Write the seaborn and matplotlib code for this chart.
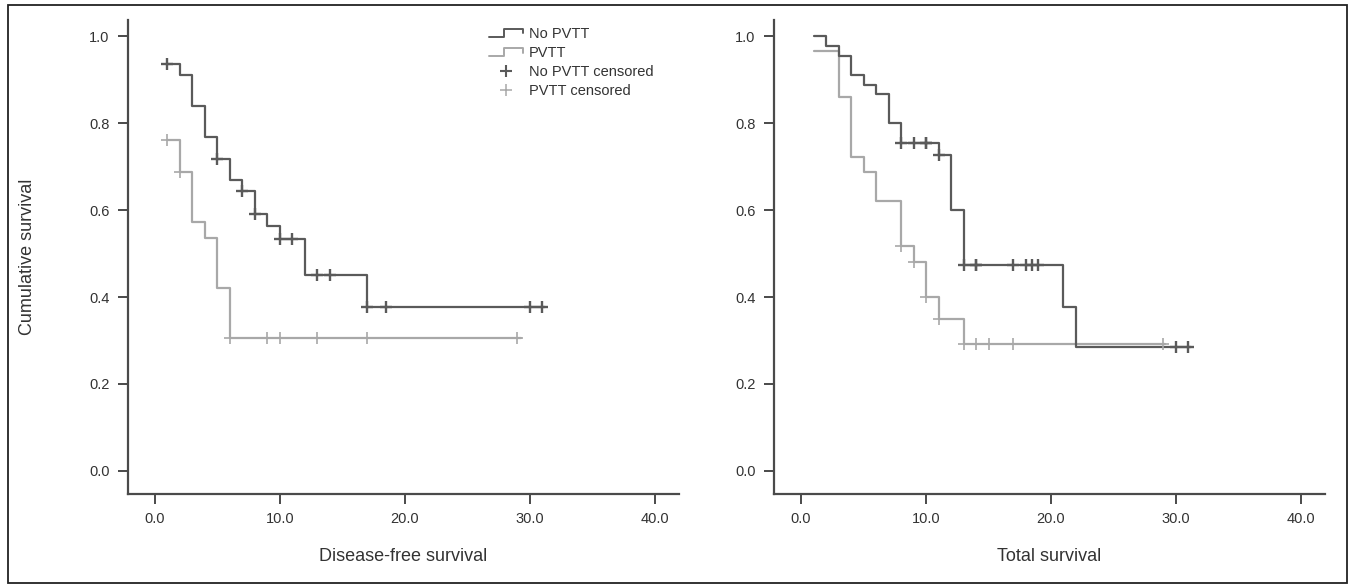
import numpy as np
import pandas as pd
import matplotlib
matplotlib.use("Agg")
import matplotlib.pyplot as plt
import seaborn as sns
from matplotlib.lines import Line2D
from matplotlib.patches import Rectangle
from matplotlib.legend_handler import HandlerBase

# Disease-free survival, step curves (time, cumulative survival)
dfs_no_t = [1, 2, 3, 4, 5, 6, 7, 8, 9, 10, 12, 17, 31.2]
dfs_no_s = [0.935, 0.91, 0.84, 0.767, 0.718, 0.668, 0.643, 0.592, 0.563, 0.533, 0.45, 0.376, 0.376]
dfs_no_cens = [1, 5, 7, 8, 10, 11, 13, 14, 17, 18.5, 30, 31]
dfs_pv_t = [1, 2, 3, 4, 5, 6, 29.3]
dfs_pv_s = [0.76, 0.687, 0.573, 0.535, 0.42, 0.305, 0.305]
dfs_pv_cens = [1, 2, 6, 9, 10, 13, 17, 29]

# Total survival
os_no_t = [1, 2, 3, 4, 5, 6, 7, 8, 11, 12, 13, 21, 22, 31.2]
os_no_s = [1.0, 0.977, 0.955, 0.91, 0.888, 0.866, 0.799, 0.755, 0.727, 0.6, 0.474, 0.378, 0.285, 0.285]
os_no_cens = [8, 9, 10, 10, 11, 13, 14, 14, 17, 18, 18.5, 19, 30, 31]
os_pv_t = [1, 3, 4, 5, 6, 8, 9, 10, 11, 13, 29.1]
os_pv_s = [0.965, 0.86, 0.723, 0.688, 0.62, 0.517, 0.48, 0.40, 0.35, 0.292, 0.292]
os_pv_cens = [8, 9, 10, 11, 13, 14, 15, 17, 29]

groups = ["No PVTT", "PVTT"]
legend_labels = ["No PVTT", "PVTT", "No PVTT censored", "PVTT censored"]
x_label = ["Disease-free survival", "Total survival"]
y_label = "Cumulative survival"
ticks_x = [0, 10, 20, 30, 40]
ticks_y = [0.0, 0.2, 0.4, 0.6, 0.8, 1.0]

DARK = "#5a5a5a"
LIGHT = "#a8a8a8"
TXT = "#333333"
palette = {"No PVTT": DARK, "PVTT": LIGHT}


def step_at(times, surv, t):
    idx = np.searchsorted(times, t, side="right") - 1
    return surv[max(idx, 0)]


def make_frames(no_t, no_s, no_c, pv_t, pv_s, pv_c):
    curves = pd.concat([
        pd.DataFrame({"time": no_t, "surv": no_s, "group": "No PVTT"}),
        pd.DataFrame({"time": pv_t, "surv": pv_s, "group": "PVTT"}),
    ], ignore_index=True)
    cens = pd.concat([
        pd.DataFrame({"time": no_c, "surv": [step_at(no_t, no_s, t) for t in no_c], "group": "No PVTT"}),
        pd.DataFrame({"time": pv_c, "surv": [step_at(pv_t, pv_s, t) for t in pv_c], "group": "PVTT"}),
    ], ignore_index=True)
    return curves, cens


class StepHandler(HandlerBase):
    def create_artists(self, legend, orig_handle, xdescent, ydescent, width, height, fontsize, trans):
        x0 = -xdescent
        x1 = x0 + width
        xm = x0 + 0.45 * width
        y0 = -ydescent + 0.1 * height
        y1 = -ydescent + 0.9 * height
        ln = Line2D([x0, xm, xm, x1, x1], [y0, y0, y1, y1, y1 - 0.45 * height],
                    color=orig_handle.get_color(), lw=orig_handle.get_linewidth())
        ln.set_transform(trans)
        return [ln]


sns.set_style("ticks")
plt.rcParams["font.family"] = ["Liberation Sans", "DejaVu Sans"]

W, H = 1355, 587
fig = plt.figure(figsize=(W / 100, H / 100), dpi=100)
ax1 = fig.add_axes([127.5 / W, (H - 494) / H, 551 / W, 474 / H])
ax2 = fig.add_axes([773.6 / W, (H - 494) / H, 551 / W, 474 / H])

data = [
    make_frames(dfs_no_t, dfs_no_s, dfs_no_cens, dfs_pv_t, dfs_pv_s, dfs_pv_cens),
    make_frames(os_no_t, os_no_s, os_no_cens, os_pv_t, os_pv_s, os_pv_cens),
]

for i, (ax, (curves, cens)) in enumerate(zip([ax1, ax2], data)):
    sns.lineplot(data=curves, x="time", y="surv", hue="group", hue_order=groups[::-1],
                 palette=palette, estimator=None, drawstyle="steps-post",
                 lw=1.6, legend=False, ax=ax)
    for g, mew in zip(groups, [1.7, 1.2]):
        sub = cens[cens["group"] == g]
        ax.plot(sub["time"], sub["surv"], ls="none", marker="+", ms=8, mew=mew,
                color=palette[g])
    ax.set_xlim(-2.2, 41.9)
    ax.set_ylim(-0.053, 1.037)
    ax.set_xticks(ticks_x)
    ax.set_xticklabels([f"{v:.1f}" for v in ticks_x])
    ax.set_yticks(ticks_y)
    ax.set_yticklabels([f"{v:.1f}" for v in ticks_y])
    for side in ["top", "right"]:
        ax.spines[side].set_visible(False)
    for side in ["left", "bottom"]:
        ax.spines[side].set_color("#4a4a4a")
        ax.spines[side].set_linewidth(1.6)
    ax.tick_params(axis="both", direction="out", length=7, width=1.4, color="#4a4a4a",
                   labelsize=10.5, labelcolor=TXT, pad=6)
    ax.set_xlabel(x_label[i], fontsize=13, color=TXT, labelpad=16)
    ax.set_ylabel("")

ax1.set_ylabel(y_label, fontsize=13, color=TXT, labelpad=38)

handles = [
    Line2D([], [], color=DARK, lw=1.4),
    Line2D([], [], color=LIGHT, lw=1.4),
    Line2D([], [], color=DARK, ls="none", marker="+", ms=9, mew=1.5),
    Line2D([], [], color=LIGHT, ls="none", marker="+", ms=9, mew=1.1),
]
leg = fig.legend(handles, legend_labels, loc="upper left",
                 bbox_to_anchor=(489 / W, 1 - 27 / H), frameon=False,
                 borderaxespad=0, borderpad=0, handlelength=2.3, handletextpad=0.45,
                 labelspacing=0.35, fontsize=10.5,
                 handler_map={handles[0]: StepHandler(), handles[1]: StepHandler()})
for t in leg.get_texts():
    t.set_color(TXT)

fig.patches.append(Rectangle((8 / W, 4 / H), 1339 / W, 578 / H, transform=fig.transFigure,
                             fill=False, edgecolor="#222222", lw=1.3))

fig.savefig("out.png", dpi=100)
